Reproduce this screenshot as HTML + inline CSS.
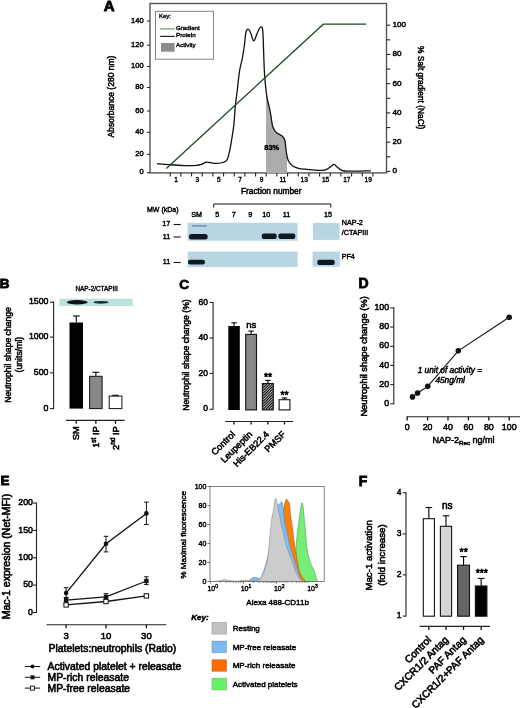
<!DOCTYPE html>
<html><head><meta charset="utf-8"><style>
html,body{margin:0;padding:0;background:#fff;}
body{width:520px;height:708px;overflow:hidden;}
svg{display:block;font-family:"Liberation Sans", sans-serif;will-change:transform;}
text{stroke:#000;stroke-width:0.55px;}
</style></head><body>
<svg width="520" height="708" viewBox="0 0 520 708">
<rect width="520" height="708" fill="#fff"/>
<text x="103.80" y="10.90" font-size="15" text-anchor="start" font-weight="bold" font-style="normal" fill="#000"  style="stroke-width:0.87px">A</text>
<rect x="150.00" y="3.50" width="236.50" height="169.40" fill="none" stroke="#555" stroke-width="1.4" />
<line x1="147.00" y1="172.70" x2="150.00" y2="172.70" stroke="#222" stroke-width="1"/>
<text x="143.60" y="174.40" font-size="7.5" text-anchor="end" font-weight="normal" font-style="normal" fill="#000"  style="stroke-width:0.43px">0</text>
<line x1="147.00" y1="154.30" x2="150.00" y2="154.30" stroke="#222" stroke-width="1"/>
<text x="143.60" y="156.00" font-size="7.5" text-anchor="end" font-weight="normal" font-style="normal" fill="#000"  style="stroke-width:0.43px">20</text>
<line x1="147.00" y1="132.30" x2="150.00" y2="132.30" stroke="#222" stroke-width="1"/>
<text x="143.60" y="134.00" font-size="7.5" text-anchor="end" font-weight="normal" font-style="normal" fill="#000"  style="stroke-width:0.43px">40</text>
<line x1="147.00" y1="111.00" x2="150.00" y2="111.00" stroke="#222" stroke-width="1"/>
<text x="143.60" y="112.70" font-size="7.5" text-anchor="end" font-weight="normal" font-style="normal" fill="#000"  style="stroke-width:0.43px">60</text>
<line x1="147.00" y1="87.50" x2="150.00" y2="87.50" stroke="#222" stroke-width="1"/>
<text x="143.60" y="89.20" font-size="7.5" text-anchor="end" font-weight="normal" font-style="normal" fill="#000"  style="stroke-width:0.43px">80</text>
<line x1="147.00" y1="66.50" x2="150.00" y2="66.50" stroke="#222" stroke-width="1"/>
<text x="143.60" y="68.20" font-size="7.5" text-anchor="end" font-weight="normal" font-style="normal" fill="#000"  style="stroke-width:0.43px">100</text>
<line x1="147.00" y1="45.20" x2="150.00" y2="45.20" stroke="#222" stroke-width="1"/>
<text x="143.60" y="46.90" font-size="7.5" text-anchor="end" font-weight="normal" font-style="normal" fill="#000"  style="stroke-width:0.43px">120</text>
<line x1="147.00" y1="21.00" x2="150.00" y2="21.00" stroke="#222" stroke-width="1"/>
<text x="143.60" y="22.70" font-size="7.5" text-anchor="end" font-weight="normal" font-style="normal" fill="#000"  style="stroke-width:0.43px">140</text>
<line x1="386.50" y1="171.40" x2="390.20" y2="171.40" stroke="#222" stroke-width="1.1"/>
<text x="392.40" y="173.40" font-size="8.1" text-anchor="start" font-weight="normal" font-style="normal" fill="#000"  style="stroke-width:0.47px">0</text>
<line x1="386.50" y1="156.78" x2="390.20" y2="156.78" stroke="#222" stroke-width="1.1"/>
<line x1="386.50" y1="142.16" x2="390.20" y2="142.16" stroke="#222" stroke-width="1.1"/>
<text x="392.40" y="144.16" font-size="8.1" text-anchor="start" font-weight="normal" font-style="normal" fill="#000"  style="stroke-width:0.47px">20</text>
<line x1="386.50" y1="127.54" x2="390.20" y2="127.54" stroke="#222" stroke-width="1.1"/>
<line x1="386.50" y1="112.92" x2="390.20" y2="112.92" stroke="#222" stroke-width="1.1"/>
<text x="392.40" y="114.92" font-size="8.1" text-anchor="start" font-weight="normal" font-style="normal" fill="#000"  style="stroke-width:0.47px">40</text>
<line x1="386.50" y1="98.30" x2="390.20" y2="98.30" stroke="#222" stroke-width="1.1"/>
<line x1="386.50" y1="83.68" x2="390.20" y2="83.68" stroke="#222" stroke-width="1.1"/>
<text x="392.40" y="85.68" font-size="8.1" text-anchor="start" font-weight="normal" font-style="normal" fill="#000"  style="stroke-width:0.47px">60</text>
<line x1="386.50" y1="69.06" x2="390.20" y2="69.06" stroke="#222" stroke-width="1.1"/>
<line x1="386.50" y1="54.44" x2="390.20" y2="54.44" stroke="#222" stroke-width="1.1"/>
<text x="392.40" y="56.44" font-size="8.1" text-anchor="start" font-weight="normal" font-style="normal" fill="#000"  style="stroke-width:0.47px">80</text>
<line x1="386.50" y1="39.82" x2="390.20" y2="39.82" stroke="#222" stroke-width="1.1"/>
<line x1="386.50" y1="25.20" x2="390.20" y2="25.20" stroke="#222" stroke-width="1.1"/>
<text x="392.40" y="27.20" font-size="8.1" text-anchor="start" font-weight="normal" font-style="normal" fill="#000"  style="stroke-width:0.47px">100</text>
<text x="114.30" y="96.50" font-size="8.5" text-anchor="middle" font-weight="normal" font-style="normal" fill="#000" transform="rotate(-90 114.30 96.50)"  style="stroke-width:0.49px">Absorbance (280 nm)</text>
<text x="418.00" y="87.75" font-size="8.4" text-anchor="middle" font-weight="normal" font-style="normal" fill="#000" transform="rotate(90 418.00 87.75)"  style="stroke-width:0.49px">% Salt gradient (NaCl)</text>
<line x1="170.20" y1="172.90" x2="170.20" y2="176.40" stroke="#222" stroke-width="1.1"/>
<line x1="180.87" y1="172.90" x2="180.87" y2="176.40" stroke="#222" stroke-width="1.1"/>
<line x1="191.54" y1="172.90" x2="191.54" y2="176.40" stroke="#222" stroke-width="1.1"/>
<line x1="202.21" y1="172.90" x2="202.21" y2="176.40" stroke="#222" stroke-width="1.1"/>
<line x1="212.88" y1="172.90" x2="212.88" y2="176.40" stroke="#222" stroke-width="1.1"/>
<line x1="223.55" y1="172.90" x2="223.55" y2="176.40" stroke="#222" stroke-width="1.1"/>
<line x1="234.22" y1="172.90" x2="234.22" y2="176.40" stroke="#222" stroke-width="1.1"/>
<line x1="244.89" y1="172.90" x2="244.89" y2="176.40" stroke="#222" stroke-width="1.1"/>
<line x1="255.56" y1="172.90" x2="255.56" y2="176.40" stroke="#222" stroke-width="1.1"/>
<line x1="266.23" y1="172.90" x2="266.23" y2="176.40" stroke="#222" stroke-width="1.1"/>
<line x1="276.90" y1="172.90" x2="276.90" y2="176.40" stroke="#222" stroke-width="1.1"/>
<line x1="287.57" y1="172.90" x2="287.57" y2="176.40" stroke="#222" stroke-width="1.1"/>
<line x1="298.24" y1="172.90" x2="298.24" y2="176.40" stroke="#222" stroke-width="1.1"/>
<line x1="308.91" y1="172.90" x2="308.91" y2="176.40" stroke="#222" stroke-width="1.1"/>
<line x1="319.58" y1="172.90" x2="319.58" y2="176.40" stroke="#222" stroke-width="1.1"/>
<line x1="330.25" y1="172.90" x2="330.25" y2="176.40" stroke="#222" stroke-width="1.1"/>
<line x1="340.92" y1="172.90" x2="340.92" y2="176.40" stroke="#222" stroke-width="1.1"/>
<line x1="351.59" y1="172.90" x2="351.59" y2="176.40" stroke="#222" stroke-width="1.1"/>
<line x1="362.26" y1="172.90" x2="362.26" y2="176.40" stroke="#222" stroke-width="1.1"/>
<line x1="372.93" y1="172.90" x2="372.93" y2="176.40" stroke="#222" stroke-width="1.1"/>
<text x="176.00" y="181.80" font-size="6.5" text-anchor="middle" font-weight="normal" font-style="normal" fill="#000"  style="stroke-width:0.38px">1</text>
<text x="197.36" y="181.80" font-size="6.5" text-anchor="middle" font-weight="normal" font-style="normal" fill="#000"  style="stroke-width:0.38px">3</text>
<text x="218.72" y="181.80" font-size="6.5" text-anchor="middle" font-weight="normal" font-style="normal" fill="#000"  style="stroke-width:0.38px">5</text>
<text x="240.08" y="181.80" font-size="6.5" text-anchor="middle" font-weight="normal" font-style="normal" fill="#000"  style="stroke-width:0.38px">7</text>
<text x="261.44" y="181.80" font-size="6.5" text-anchor="middle" font-weight="normal" font-style="normal" fill="#000"  style="stroke-width:0.38px">9</text>
<text x="282.80" y="181.80" font-size="6.5" text-anchor="middle" font-weight="normal" font-style="normal" fill="#000"  style="stroke-width:0.38px">11</text>
<text x="304.16" y="181.80" font-size="6.5" text-anchor="middle" font-weight="normal" font-style="normal" fill="#000"  style="stroke-width:0.38px">13</text>
<text x="325.52" y="181.80" font-size="6.5" text-anchor="middle" font-weight="normal" font-style="normal" fill="#000"  style="stroke-width:0.38px">15</text>
<text x="346.88" y="181.80" font-size="6.5" text-anchor="middle" font-weight="normal" font-style="normal" fill="#000"  style="stroke-width:0.38px">17</text>
<text x="368.24" y="181.80" font-size="6.5" text-anchor="middle" font-weight="normal" font-style="normal" fill="#000"  style="stroke-width:0.38px">19</text>
<text x="241.00" y="194.00" font-size="8.3" text-anchor="start" font-weight="normal" font-style="normal" fill="#000"  style="stroke-width:0.48px">Fraction number</text>
<defs><clipPath id="actclip"><rect x="266.1" y="0" width="20.8" height="173"/></clipPath></defs>
<path d="M157.00,163.70 C159.00,163.87 164.40,164.38 169.00,164.70 C173.60,165.02 179.98,165.48 184.60,165.60 C189.22,165.72 193.80,165.63 196.70,165.40 C199.60,165.17 200.42,164.73 202.00,164.20 C203.58,163.67 204.92,162.48 206.20,162.20 C207.48,161.92 208.10,162.30 209.70,162.50 C211.30,162.70 213.63,163.40 215.80,163.40 C217.97,163.40 220.83,163.08 222.70,162.50 C224.57,161.92 225.85,161.82 227.00,159.90 C228.15,157.98 228.83,154.32 229.60,151.00 C230.37,147.68 230.90,144.33 231.60,140.00 C232.30,135.67 233.17,130.77 233.80,125.00 C234.43,119.23 234.87,110.82 235.40,105.40 C235.93,99.98 236.32,98.17 237.00,92.50 C237.68,86.83 238.60,77.15 239.50,71.40 C240.40,65.65 241.58,62.40 242.40,58.00 C243.22,53.60 243.83,49.17 244.40,45.00 C244.97,40.83 245.25,35.63 245.80,33.00 C246.35,30.37 246.95,29.37 247.70,29.20 C248.45,29.03 249.28,30.07 250.30,32.00 C251.32,33.93 252.63,40.63 253.80,40.80 C254.97,40.97 256.17,35.30 257.30,33.00 C258.43,30.70 259.70,27.50 260.60,27.00 C261.50,26.50 262.23,27.00 262.70,30.00 C263.17,33.00 263.20,40.00 263.40,45.00 C263.60,50.00 263.67,54.53 263.90,60.00 C264.13,65.47 264.28,71.58 264.80,77.80 C265.32,84.02 266.08,91.60 267.00,97.30 C267.92,103.00 269.35,107.13 270.30,112.00 C271.25,116.87 271.75,123.13 272.70,126.50 C273.65,129.87 274.37,130.57 276.00,132.20 C277.63,133.83 281.00,134.83 282.50,136.30 C284.00,137.77 284.38,138.55 285.00,141.00 C285.62,143.45 285.67,147.73 286.20,151.00 C286.73,154.27 287.07,158.05 288.20,160.60 C289.33,163.15 291.03,164.95 293.00,166.30 C294.97,167.65 297.93,168.22 300.00,168.70 C302.07,169.18 302.27,168.92 305.40,169.20 C308.53,169.48 315.43,170.30 318.80,170.40 C322.17,170.50 323.67,170.38 325.60,169.80 C327.53,169.22 329.03,167.80 330.40,166.90 C331.77,166.00 332.68,164.40 333.80,164.40 C334.92,164.40 335.75,165.90 337.10,166.90 C338.45,167.90 340.13,169.68 341.90,170.40 C343.67,171.12 342.88,171.13 347.70,171.20 C352.52,171.27 366.95,170.87 370.80,170.80 L370.8,173 L157,173 Z" fill="#acacac" clip-path="url(#actclip)"/>
<path d="M157.00,163.70 C159.00,163.87 164.40,164.38 169.00,164.70 C173.60,165.02 179.98,165.48 184.60,165.60 C189.22,165.72 193.80,165.63 196.70,165.40 C199.60,165.17 200.42,164.73 202.00,164.20 C203.58,163.67 204.92,162.48 206.20,162.20 C207.48,161.92 208.10,162.30 209.70,162.50 C211.30,162.70 213.63,163.40 215.80,163.40 C217.97,163.40 220.83,163.08 222.70,162.50 C224.57,161.92 225.85,161.82 227.00,159.90 C228.15,157.98 228.83,154.32 229.60,151.00 C230.37,147.68 230.90,144.33 231.60,140.00 C232.30,135.67 233.17,130.77 233.80,125.00 C234.43,119.23 234.87,110.82 235.40,105.40 C235.93,99.98 236.32,98.17 237.00,92.50 C237.68,86.83 238.60,77.15 239.50,71.40 C240.40,65.65 241.58,62.40 242.40,58.00 C243.22,53.60 243.83,49.17 244.40,45.00 C244.97,40.83 245.25,35.63 245.80,33.00 C246.35,30.37 246.95,29.37 247.70,29.20 C248.45,29.03 249.28,30.07 250.30,32.00 C251.32,33.93 252.63,40.63 253.80,40.80 C254.97,40.97 256.17,35.30 257.30,33.00 C258.43,30.70 259.70,27.50 260.60,27.00 C261.50,26.50 262.23,27.00 262.70,30.00 C263.17,33.00 263.20,40.00 263.40,45.00 C263.60,50.00 263.67,54.53 263.90,60.00 C264.13,65.47 264.28,71.58 264.80,77.80 C265.32,84.02 266.08,91.60 267.00,97.30 C267.92,103.00 269.35,107.13 270.30,112.00 C271.25,116.87 271.75,123.13 272.70,126.50 C273.65,129.87 274.37,130.57 276.00,132.20 C277.63,133.83 281.00,134.83 282.50,136.30 C284.00,137.77 284.38,138.55 285.00,141.00 C285.62,143.45 285.67,147.73 286.20,151.00 C286.73,154.27 287.07,158.05 288.20,160.60 C289.33,163.15 291.03,164.95 293.00,166.30 C294.97,167.65 297.93,168.22 300.00,168.70 C302.07,169.18 302.27,168.92 305.40,169.20 C308.53,169.48 315.43,170.30 318.80,170.40 C322.17,170.50 323.67,170.38 325.60,169.80 C327.53,169.22 329.03,167.80 330.40,166.90 C331.77,166.00 332.68,164.40 333.80,164.40 C334.92,164.40 335.75,165.90 337.10,166.90 C338.45,167.90 340.13,169.68 341.90,170.40 C343.67,171.12 342.88,171.13 347.70,171.20 C352.52,171.27 366.95,170.87 370.80,170.80" fill="none" stroke="#111" stroke-width="1.3" />
<path d="M166.3,168.5 L323.3,24.2 L366,24.2" fill="none" stroke="#1f4a24" stroke-width="1.3" />
<text x="271.80" y="149.80" font-size="7.5" text-anchor="middle" font-weight="bold" font-style="normal" fill="#000"  style="stroke-width:0.43px">83%</text>
<rect x="155.50" y="11.30" width="57.90" height="47.90" fill="#fff" stroke="#777" stroke-width="0.9" />
<text x="159.00" y="18.40" font-size="6" text-anchor="start" font-weight="normal" font-style="normal" fill="#000"  style="stroke-width:0.35px">Key:</text>
<line x1="160.20" y1="28.90" x2="174.80" y2="28.90" stroke="#6a9a70" stroke-width="1.2"/>
<text x="176.00" y="29.60" font-size="6.2" text-anchor="start" font-weight="normal" font-style="normal" fill="#000"  style="stroke-width:0.36px">Gradient</text>
<line x1="160.20" y1="36.40" x2="174.80" y2="36.40" stroke="#222" stroke-width="1.2"/>
<text x="176.00" y="37.40" font-size="6.2" text-anchor="start" font-weight="normal" font-style="normal" fill="#000"  style="stroke-width:0.36px">Protein</text>
<rect x="161.00" y="43.00" width="13.60" height="8.70" fill="#8c8c8c" stroke="none" stroke-width="1" />
<text x="176.00" y="46.90" font-size="6.2" text-anchor="start" font-weight="normal" font-style="normal" fill="#000"  style="stroke-width:0.36px">Activity</text>
<text x="147.00" y="211.50" font-size="7" text-anchor="start" font-weight="normal" font-style="normal" fill="#000"  style="stroke-width:0.41px">MW (kDa)</text>
<text x="191.30" y="216.50" font-size="7.2" text-anchor="start" font-weight="normal" font-style="normal" fill="#000"  style="stroke-width:0.42px">SM</text>
<text x="217.20" y="216.50" font-size="7.2" text-anchor="middle" font-weight="normal" font-style="normal" fill="#000"  style="stroke-width:0.42px">5</text>
<text x="233.80" y="216.50" font-size="7.2" text-anchor="middle" font-weight="normal" font-style="normal" fill="#000"  style="stroke-width:0.42px">7</text>
<text x="250.20" y="216.50" font-size="7.2" text-anchor="middle" font-weight="normal" font-style="normal" fill="#000"  style="stroke-width:0.42px">9</text>
<text x="266.30" y="216.50" font-size="7.2" text-anchor="middle" font-weight="normal" font-style="normal" fill="#000"  style="stroke-width:0.42px">10</text>
<text x="286.60" y="216.50" font-size="7.2" text-anchor="middle" font-weight="normal" font-style="normal" fill="#000"  style="stroke-width:0.42px">11</text>
<text x="327.90" y="216.50" font-size="7.2" text-anchor="middle" font-weight="normal" font-style="normal" fill="#000"  style="stroke-width:0.42px">15</text>
<path d="M213.75,207.5 L213.75,204 L330.8,204 L330.8,207.5" fill="none" stroke="#111" stroke-width="1" />
<rect x="187.60" y="222.80" width="110.00" height="17.90" fill="#b9d5e3" stroke="none" stroke-width="1" />
<rect x="312.90" y="223.00" width="26.60" height="16.90" fill="#b9d5e3" stroke="none" stroke-width="1" />
<rect x="187.60" y="251.50" width="110.00" height="15.60" fill="#b9d5e3" stroke="none" stroke-width="1" />
<rect x="312.50" y="251.50" width="27.20" height="15.20" fill="#b9d5e3" stroke="none" stroke-width="1" />
<text x="170.30" y="226.10" font-size="7.2" text-anchor="end" font-weight="normal" font-style="normal" fill="#000"  style="stroke-width:0.42px">17</text>
<line x1="173.70" y1="224.50" x2="180.70" y2="224.50" stroke="#111" stroke-width="1.1"/>
<text x="170.30" y="238.60" font-size="7.2" text-anchor="end" font-weight="normal" font-style="normal" fill="#000"  style="stroke-width:0.42px">11</text>
<line x1="173.70" y1="237.00" x2="180.70" y2="237.00" stroke="#111" stroke-width="1.1"/>
<text x="170.30" y="264.10" font-size="7.2" text-anchor="end" font-weight="normal" font-style="normal" fill="#000"  style="stroke-width:0.42px">11</text>
<line x1="173.70" y1="262.50" x2="180.70" y2="262.50" stroke="#111" stroke-width="1.1"/>
<rect x="188.90" y="234.00" width="18.80" height="5.40" fill="#0e1822" stroke="none" stroke-width="1" rx="2.5"/>
<rect x="192.00" y="225.00" width="15.00" height="1.80" fill="#8197ad" stroke="none" stroke-width="1" rx="0.9"/>
<rect x="261.80" y="233.40" width="14.90" height="5.60" fill="#0e1822" stroke="none" stroke-width="1" rx="2"/>
<rect x="278.40" y="233.40" width="16.90" height="5.60" fill="#0e1822" stroke="none" stroke-width="1" rx="2"/>
<rect x="188.00" y="259.80" width="17.00" height="4.60" fill="#0e1822" stroke="none" stroke-width="1" rx="2.2"/>
<rect x="317.30" y="259.70" width="17.40" height="5.30" fill="#0e1822" stroke="none" stroke-width="1" rx="2"/>
<text x="341.70" y="225.20" font-size="7.2" text-anchor="start" font-weight="normal" font-style="normal" fill="#000"  style="stroke-width:0.42px">NAP-2</text>
<text x="341.70" y="235.20" font-size="7.2" text-anchor="start" font-weight="normal" font-style="normal" fill="#000"  style="stroke-width:0.42px">/CTAPIII</text>
<text x="341.70" y="259.20" font-size="7.2" text-anchor="start" font-weight="normal" font-style="normal" fill="#000"  style="stroke-width:0.42px">PF4</text>
<text x="-0.30" y="287.60" font-size="13.5" text-anchor="start" font-weight="bold" font-style="normal" fill="#000"  style="stroke-width:0.78px">B</text>
<line x1="53.60" y1="301.60" x2="53.60" y2="408.90" stroke="#222" stroke-width="1.1"/>
<line x1="50.00" y1="302.20" x2="53.60" y2="302.20" stroke="#222" stroke-width="1.1"/>
<text x="48.50" y="304.40" font-size="8.8" text-anchor="end" font-weight="normal" font-style="normal" fill="#000"  style="stroke-width:0.51px">1500</text>
<line x1="50.00" y1="337.10" x2="53.60" y2="337.10" stroke="#222" stroke-width="1.1"/>
<text x="48.50" y="339.30" font-size="8.8" text-anchor="end" font-weight="normal" font-style="normal" fill="#000"  style="stroke-width:0.51px">1000</text>
<line x1="50.00" y1="372.90" x2="53.60" y2="372.90" stroke="#222" stroke-width="1.1"/>
<text x="48.50" y="375.10" font-size="8.8" text-anchor="end" font-weight="normal" font-style="normal" fill="#000"  style="stroke-width:0.51px">500</text>
<line x1="50.00" y1="408.60" x2="53.60" y2="408.60" stroke="#222" stroke-width="1.1"/>
<text x="48.50" y="410.80" font-size="8.8" text-anchor="end" font-weight="normal" font-style="normal" fill="#000"  style="stroke-width:0.51px">0</text>
<rect x="59.30" y="298.70" width="73.40" height="7.30" fill="#bce2de" stroke="none" stroke-width="1" />
<ellipse cx="77.2" cy="302.2" rx="10.6" ry="2.2" fill="#0b1414"/>
<ellipse cx="101" cy="302.3" rx="7.6" ry="1.4" fill="#173030"/>
<text x="75.40" y="291.20" font-size="6.4" text-anchor="start" font-weight="normal" font-style="normal" fill="#000"  style="stroke-width:0.37px">NAP-2/CTAPIII</text>
<rect x="69.50" y="322.50" width="13.50" height="86.10" fill="#000" stroke="none" stroke-width="1" />
<line x1="76.25" y1="322.50" x2="76.25" y2="316.00" stroke="#000" stroke-width="1.1"/>
<line x1="73.00" y1="316.00" x2="79.80" y2="316.00" stroke="#000" stroke-width="1.1"/>
<line x1="95.85" y1="376.30" x2="95.85" y2="372.30" stroke="#000" stroke-width="1.1"/>
<line x1="92.50" y1="372.30" x2="99.20" y2="372.30" stroke="#000" stroke-width="1.1"/>
<rect x="89.60" y="376.30" width="12.50" height="32.30" fill="#888" stroke="#111" stroke-width="1" />
<line x1="115.50" y1="396.10" x2="115.50" y2="395.30" stroke="#000" stroke-width="1.1"/>
<line x1="112.30" y1="395.30" x2="118.70" y2="395.30" stroke="#000" stroke-width="1.1"/>
<rect x="109.20" y="396.10" width="12.70" height="12.50" fill="#fff" stroke="#111" stroke-width="1" />
<line x1="66.00" y1="420.40" x2="124.60" y2="420.40" stroke="#222" stroke-width="1.2"/>
<line x1="76.25" y1="420.40" x2="76.25" y2="423.80" stroke="#111" stroke-width="1.3"/>
<line x1="95.85" y1="420.40" x2="95.85" y2="423.80" stroke="#111" stroke-width="1.3"/>
<line x1="115.50" y1="420.40" x2="115.50" y2="423.80" stroke="#111" stroke-width="1.3"/>
<text x="79.00" y="426.20" font-size="9.4" text-anchor="end" font-weight="normal" font-style="normal" fill="#000" transform="rotate(-90 79.00 426.20)"  style="stroke-width:0.55px">SM</text>
<text x="99.50" y="426.20" font-size="9.4" text-anchor="end" font-weight="normal" font-style="normal" fill="#000" transform="rotate(-90 99.50 426.20)"  style="stroke-width:0.55px">1<tspan font-size="6.4" dy="-3.6">st</tspan><tspan dy="3.6"> IP</tspan></text>
<text x="118.60" y="426.20" font-size="9.4" text-anchor="end" font-weight="normal" font-style="normal" fill="#000" transform="rotate(-90 118.60 426.20)"  style="stroke-width:0.55px">2<tspan font-size="6.4" dy="-3.6">nd</tspan><tspan dy="3.6"> IP</tspan></text>
<text x="10.60" y="355.00" font-size="8.6" text-anchor="middle" font-weight="normal" font-style="normal" fill="#000" transform="rotate(-90 10.60 355.00)"  style="stroke-width:0.50px">Neutrophil shape change</text>
<text x="21.60" y="354.60" font-size="8.7" text-anchor="middle" font-weight="normal" font-style="normal" fill="#000" transform="rotate(-90 21.60 354.60)"  style="stroke-width:0.50px">(units/ml)</text>
<text x="179.30" y="289.20" font-size="13.5" text-anchor="start" font-weight="bold" font-style="normal" fill="#000"  style="stroke-width:0.78px">C</text>
<line x1="213.10" y1="302.00" x2="213.10" y2="409.60" stroke="#222" stroke-width="1.1"/>
<line x1="209.60" y1="302.50" x2="213.10" y2="302.50" stroke="#222" stroke-width="1.1"/>
<text x="208.00" y="304.60" font-size="8.5" text-anchor="end" font-weight="normal" font-style="normal" fill="#000"  style="stroke-width:0.49px">60</text>
<line x1="209.60" y1="338.00" x2="213.10" y2="338.00" stroke="#222" stroke-width="1.1"/>
<text x="208.00" y="340.10" font-size="8.5" text-anchor="end" font-weight="normal" font-style="normal" fill="#000"  style="stroke-width:0.49px">40</text>
<line x1="209.60" y1="373.40" x2="213.10" y2="373.40" stroke="#222" stroke-width="1.1"/>
<text x="208.00" y="375.50" font-size="8.5" text-anchor="end" font-weight="normal" font-style="normal" fill="#000"  style="stroke-width:0.49px">20</text>
<line x1="209.60" y1="409.30" x2="213.10" y2="409.30" stroke="#222" stroke-width="1.1"/>
<text x="208.00" y="411.40" font-size="8.5" text-anchor="end" font-weight="normal" font-style="normal" fill="#000"  style="stroke-width:0.49px">0</text>
<defs><pattern id="hatch" patternUnits="userSpaceOnUse" width="1.9" height="1.9" patternTransform="rotate(45)"><rect width="1.9" height="1.9" fill="#c8c8c8"/><rect x="0" y="0" width="1.15" height="1.9" fill="#1a1a1a"/></pattern></defs>
<line x1="234.05" y1="326.00" x2="234.05" y2="322.80" stroke="#000" stroke-width="1.1"/>
<line x1="231.35" y1="322.80" x2="236.75" y2="322.80" stroke="#000" stroke-width="1.1"/>
<rect x="228.30" y="326.00" width="11.50" height="84.00" fill="#000" stroke="none" stroke-width="1" />
<line x1="251.10" y1="334.40" x2="251.10" y2="331.10" stroke="#000" stroke-width="1.1"/>
<line x1="248.40" y1="331.10" x2="253.80" y2="331.10" stroke="#000" stroke-width="1.1"/>
<rect x="245.70" y="334.40" width="10.80" height="75.50" fill="#888" stroke="#111" stroke-width="1.1" />
<text x="251.20" y="327.50" font-size="9.5" text-anchor="middle" font-weight="normal" font-style="normal" fill="#000"  style="stroke-width:0.55px">ns</text>
<line x1="267.85" y1="383.50" x2="267.85" y2="380.40" stroke="#000" stroke-width="1.1"/>
<line x1="265.15" y1="380.40" x2="270.55" y2="380.40" stroke="#000" stroke-width="1.1"/>
<rect x="262.40" y="383.50" width="10.90" height="26.40" fill="url(#hatch)" stroke="#111" stroke-width="1.1" />
<text x="268.00" y="381.40" font-size="10.5" text-anchor="middle" font-weight="normal" font-style="normal" fill="#000"  style="stroke-width:0.61px">**</text>
<line x1="284.50" y1="399.70" x2="284.50" y2="398.00" stroke="#000" stroke-width="1.1"/>
<line x1="281.80" y1="398.00" x2="287.20" y2="398.00" stroke="#000" stroke-width="1.1"/>
<rect x="279.10" y="399.70" width="10.80" height="10.20" fill="#fff" stroke="#111" stroke-width="1.1" />
<text x="284.60" y="398.80" font-size="10.5" text-anchor="middle" font-weight="normal" font-style="normal" fill="#000"  style="stroke-width:0.61px">**</text>
<line x1="225.20" y1="421.50" x2="293.20" y2="421.50" stroke="#222" stroke-width="1.1"/>
<line x1="234.05" y1="421.50" x2="234.05" y2="424.40" stroke="#111" stroke-width="1.3"/>
<line x1="251.10" y1="421.50" x2="251.10" y2="424.40" stroke="#111" stroke-width="1.3"/>
<line x1="267.85" y1="421.50" x2="267.85" y2="424.40" stroke="#111" stroke-width="1.3"/>
<line x1="284.50" y1="421.50" x2="284.50" y2="424.40" stroke="#111" stroke-width="1.3"/>
<text x="235.75" y="434.90" font-size="9.15" text-anchor="end" font-weight="normal" font-style="normal" fill="#000" transform="rotate(-45 235.75 434.90)"  style="stroke-width:0.53px">Control</text>
<text x="252.80" y="434.90" font-size="9.15" text-anchor="end" font-weight="normal" font-style="normal" fill="#000" transform="rotate(-45 252.80 434.90)"  style="stroke-width:0.53px">Leupeptin</text>
<text x="269.55" y="434.90" font-size="9.15" text-anchor="end" font-weight="normal" font-style="normal" fill="#000" transform="rotate(-45 269.55 434.90)"  style="stroke-width:0.53px">His-EB22.4</text>
<text x="286.20" y="434.90" font-size="9.15" text-anchor="end" font-weight="normal" font-style="normal" fill="#000" transform="rotate(-45 286.20 434.90)"  style="stroke-width:0.53px">PMSF</text>
<text x="189.20" y="355.00" font-size="8.6" text-anchor="middle" font-weight="normal" font-style="normal" fill="#000" transform="rotate(-90 189.20 355.00)"  style="stroke-width:0.50px">Neutrophil shape change (%)</text>
<text x="358.60" y="287.60" font-size="14" text-anchor="start" font-weight="bold" font-style="normal" fill="#000"  style="stroke-width:0.81px">D</text>
<line x1="393.80" y1="307.40" x2="393.80" y2="404.20" stroke="#222" stroke-width="1.1"/>
<line x1="390.20" y1="403.80" x2="393.80" y2="403.80" stroke="#222" stroke-width="1.1"/>
<text x="389.10" y="406.00" font-size="8.8" text-anchor="end" font-weight="normal" font-style="normal" fill="#000"  style="stroke-width:0.51px">0</text>
<line x1="390.20" y1="384.62" x2="393.80" y2="384.62" stroke="#222" stroke-width="1.1"/>
<text x="389.10" y="386.82" font-size="8.8" text-anchor="end" font-weight="normal" font-style="normal" fill="#000"  style="stroke-width:0.51px">20</text>
<line x1="390.20" y1="365.44" x2="393.80" y2="365.44" stroke="#222" stroke-width="1.1"/>
<text x="389.10" y="367.64" font-size="8.8" text-anchor="end" font-weight="normal" font-style="normal" fill="#000"  style="stroke-width:0.51px">40</text>
<line x1="390.20" y1="346.26" x2="393.80" y2="346.26" stroke="#222" stroke-width="1.1"/>
<text x="389.10" y="348.46" font-size="8.8" text-anchor="end" font-weight="normal" font-style="normal" fill="#000"  style="stroke-width:0.51px">60</text>
<line x1="390.20" y1="327.08" x2="393.80" y2="327.08" stroke="#222" stroke-width="1.1"/>
<text x="389.10" y="329.28" font-size="8.8" text-anchor="end" font-weight="normal" font-style="normal" fill="#000"  style="stroke-width:0.51px">80</text>
<line x1="390.20" y1="307.90" x2="393.80" y2="307.90" stroke="#222" stroke-width="1.1"/>
<text x="389.10" y="310.10" font-size="8.8" text-anchor="end" font-weight="normal" font-style="normal" fill="#000"  style="stroke-width:0.51px">100</text>
<line x1="406.60" y1="416.80" x2="520.00" y2="416.80" stroke="#222" stroke-width="1.1"/>
<line x1="407.20" y1="416.80" x2="407.20" y2="420.40" stroke="#111" stroke-width="1.3"/>
<text x="407.20" y="430.20" font-size="8.8" text-anchor="middle" font-weight="normal" font-style="normal" fill="#000"  style="stroke-width:0.51px">0</text>
<line x1="427.60" y1="416.80" x2="427.60" y2="420.40" stroke="#111" stroke-width="1.3"/>
<text x="427.60" y="430.20" font-size="8.8" text-anchor="middle" font-weight="normal" font-style="normal" fill="#000"  style="stroke-width:0.51px">20</text>
<line x1="448.00" y1="416.80" x2="448.00" y2="420.40" stroke="#111" stroke-width="1.3"/>
<text x="448.00" y="430.20" font-size="8.8" text-anchor="middle" font-weight="normal" font-style="normal" fill="#000"  style="stroke-width:0.51px">40</text>
<line x1="468.40" y1="416.80" x2="468.40" y2="420.40" stroke="#111" stroke-width="1.3"/>
<text x="468.40" y="430.20" font-size="8.8" text-anchor="middle" font-weight="normal" font-style="normal" fill="#000"  style="stroke-width:0.51px">60</text>
<line x1="488.80" y1="416.80" x2="488.80" y2="420.40" stroke="#111" stroke-width="1.3"/>
<text x="488.80" y="430.20" font-size="8.8" text-anchor="middle" font-weight="normal" font-style="normal" fill="#000"  style="stroke-width:0.51px">80</text>
<line x1="509.20" y1="416.80" x2="509.20" y2="420.40" stroke="#111" stroke-width="1.3"/>
<text x="509.20" y="430.20" font-size="8.8" text-anchor="middle" font-weight="normal" font-style="normal" fill="#000"  style="stroke-width:0.51px">100</text>
<polyline points="412.49,396.89 417.58,393.05 427.76,386.34 458.30,350.86 509.20,317.29" fill="none" stroke="#111" stroke-width="1.1"/>
<circle cx="412.49" cy="396.89" r="2.8" fill="#111"/>
<circle cx="417.58" cy="393.05" r="2.8" fill="#111"/>
<circle cx="427.76" cy="386.34" r="2.8" fill="#111"/>
<circle cx="458.30" cy="350.86" r="2.8" fill="#111"/>
<circle cx="509.20" cy="317.29" r="2.8" fill="#111"/>
<text x="417.70" y="373.30" font-size="8.3" text-anchor="start" font-weight="normal" font-style="italic" fill="#000"  style="stroke-width:0.48px">1 unit of activity =</text>
<text x="435.40" y="383.40" font-size="8.3" text-anchor="start" font-weight="normal" font-style="italic" fill="#000"  style="stroke-width:0.48px">45ng/ml</text>
<text x="432.50" y="442.70" font-size="9" text-anchor="start" font-weight="normal" font-style="normal" fill="#000"  style="stroke-width:0.52px">NAP-2<tspan font-size="6.2" dy="2.2">Rec</tspan><tspan dy="-2.2"> ng/ml</tspan></text>
<text x="367.40" y="356.40" font-size="9.3" text-anchor="middle" font-weight="normal" font-style="normal" fill="#000" transform="rotate(-90 367.40 356.40)"  style="stroke-width:0.54px">Neutrophil shape change (%)</text>
<text x="0.60" y="484.60" font-size="13.5" text-anchor="start" font-weight="bold" font-style="normal" fill="#000"  style="stroke-width:0.78px">E</text>
<line x1="36.50" y1="502.60" x2="36.50" y2="612.90" stroke="#222" stroke-width="1.1"/>
<line x1="33.00" y1="612.50" x2="36.50" y2="612.50" stroke="#222" stroke-width="1.1"/>
<text x="33.00" y="614.70" font-size="8.8" text-anchor="end" font-weight="normal" font-style="normal" fill="#000"  style="stroke-width:0.51px">0</text>
<line x1="33.00" y1="585.12" x2="36.50" y2="585.12" stroke="#222" stroke-width="1.1"/>
<text x="33.00" y="587.33" font-size="8.8" text-anchor="end" font-weight="normal" font-style="normal" fill="#000"  style="stroke-width:0.51px">50</text>
<line x1="33.00" y1="557.75" x2="36.50" y2="557.75" stroke="#222" stroke-width="1.1"/>
<text x="33.00" y="559.95" font-size="8.8" text-anchor="end" font-weight="normal" font-style="normal" fill="#000"  style="stroke-width:0.51px">100</text>
<line x1="33.00" y1="530.38" x2="36.50" y2="530.38" stroke="#222" stroke-width="1.1"/>
<text x="33.00" y="532.58" font-size="8.8" text-anchor="end" font-weight="normal" font-style="normal" fill="#000"  style="stroke-width:0.51px">150</text>
<line x1="33.00" y1="503.00" x2="36.50" y2="503.00" stroke="#222" stroke-width="1.1"/>
<text x="33.00" y="505.20" font-size="8.8" text-anchor="end" font-weight="normal" font-style="normal" fill="#000"  style="stroke-width:0.51px">200</text>
<line x1="46.50" y1="624.70" x2="166.30" y2="624.70" stroke="#222" stroke-width="1.1"/>
<line x1="66.10" y1="624.70" x2="66.10" y2="628.20" stroke="#111" stroke-width="1.3"/>
<text x="66.10" y="639.00" font-size="9.5" text-anchor="middle" font-weight="normal" font-style="normal" fill="#000"  style="stroke-width:0.55px">3</text>
<line x1="106.00" y1="624.70" x2="106.00" y2="628.20" stroke="#111" stroke-width="1.3"/>
<text x="106.00" y="639.00" font-size="9.5" text-anchor="middle" font-weight="normal" font-style="normal" fill="#000"  style="stroke-width:0.55px">10</text>
<line x1="146.40" y1="624.70" x2="146.40" y2="628.20" stroke="#111" stroke-width="1.3"/>
<text x="146.40" y="639.00" font-size="9.5" text-anchor="middle" font-weight="normal" font-style="normal" fill="#000"  style="stroke-width:0.55px">30</text>
<text x="48.60" y="652.00" font-size="10.4" text-anchor="start" font-weight="normal" font-style="normal" fill="#000"  style="stroke-width:0.60px">Platelets:neutrophils (Ratio)</text>
<line x1="66.10" y1="587.70" x2="66.10" y2="597.70" stroke="#111" stroke-width="1"/>
<line x1="63.80" y1="587.70" x2="68.40" y2="587.70" stroke="#111" stroke-width="1"/>
<line x1="63.80" y1="597.70" x2="68.40" y2="597.70" stroke="#111" stroke-width="1"/>
<line x1="106.00" y1="536.30" x2="106.00" y2="551.90" stroke="#111" stroke-width="1"/>
<line x1="103.70" y1="536.30" x2="108.30" y2="536.30" stroke="#111" stroke-width="1"/>
<line x1="103.70" y1="551.90" x2="108.30" y2="551.90" stroke="#111" stroke-width="1"/>
<line x1="146.40" y1="502.10" x2="146.40" y2="524.50" stroke="#111" stroke-width="1"/>
<line x1="144.10" y1="502.10" x2="148.70" y2="502.10" stroke="#111" stroke-width="1"/>
<line x1="144.10" y1="524.50" x2="148.70" y2="524.50" stroke="#111" stroke-width="1"/>
<line x1="66.10" y1="597.40" x2="66.10" y2="602.80" stroke="#111" stroke-width="1"/>
<line x1="63.80" y1="597.40" x2="68.40" y2="597.40" stroke="#111" stroke-width="1"/>
<line x1="63.80" y1="602.80" x2="68.40" y2="602.80" stroke="#111" stroke-width="1"/>
<line x1="106.00" y1="593.60" x2="106.00" y2="599.60" stroke="#111" stroke-width="1"/>
<line x1="103.70" y1="593.60" x2="108.30" y2="593.60" stroke="#111" stroke-width="1"/>
<line x1="103.70" y1="599.60" x2="108.30" y2="599.60" stroke="#111" stroke-width="1"/>
<line x1="146.40" y1="576.80" x2="146.40" y2="584.60" stroke="#111" stroke-width="1"/>
<line x1="144.10" y1="576.80" x2="148.70" y2="576.80" stroke="#111" stroke-width="1"/>
<line x1="144.10" y1="584.60" x2="148.70" y2="584.60" stroke="#111" stroke-width="1"/>
<polyline points="66.10,593.10 106.00,543.80 146.40,513.40" fill="none" stroke="#111" stroke-width="1.3"/>
<polyline points="66.10,600.20 106.00,596.90 146.40,581.00" fill="none" stroke="#111" stroke-width="1.3"/>
<polyline points="66.10,604.90 106.00,601.50 146.40,595.90" fill="none" stroke="#111" stroke-width="1.3"/>
<circle cx="66.1" cy="593.1" r="2.3" fill="#111"/>
<circle cx="106" cy="543.8" r="2.3" fill="#111"/>
<circle cx="146.4" cy="513.4" r="2.3" fill="#111"/>
<rect x="63.90" y="598.00" width="4.40" height="4.40" fill="#111" stroke="none" stroke-width="1" />
<rect x="103.80" y="594.70" width="4.40" height="4.40" fill="#111" stroke="none" stroke-width="1" />
<rect x="144.20" y="578.80" width="4.40" height="4.40" fill="#111" stroke="none" stroke-width="1" />
<rect x="63.90" y="602.70" width="4.40" height="4.40" fill="#fff" stroke="#111" stroke-width="1" />
<rect x="103.80" y="599.30" width="4.40" height="4.40" fill="#fff" stroke="#111" stroke-width="1" />
<rect x="144.20" y="593.70" width="4.40" height="4.40" fill="#fff" stroke="#111" stroke-width="1" />
<line x1="24.80" y1="666.50" x2="40.20" y2="666.50" stroke="#111" stroke-width="1"/>
<circle cx="32.5" cy="666.5" r="2" fill="#111"/>
<text x="47.50" y="670.40" font-size="10.4" text-anchor="start" font-weight="normal" font-style="normal" fill="#000"  style="stroke-width:0.60px">Activated platelet + releasate</text>
<line x1="24.80" y1="677.30" x2="40.20" y2="677.30" stroke="#111" stroke-width="1"/>
<rect x="30.50" y="675.30" width="4.00" height="4.00" fill="#111" stroke="none" stroke-width="1" />
<text x="47.50" y="681.20" font-size="10.4" text-anchor="start" font-weight="normal" font-style="normal" fill="#000"  style="stroke-width:0.60px">MP-rich releasate</text>
<line x1="24.80" y1="688.10" x2="40.20" y2="688.10" stroke="#111" stroke-width="1"/>
<rect x="30.50" y="686.10" width="4.00" height="4.00" fill="#fff" stroke="#111" stroke-width="0.9" />
<text x="47.50" y="692.00" font-size="10.4" text-anchor="start" font-weight="normal" font-style="normal" fill="#000"  style="stroke-width:0.60px">MP-free releasate</text>
<text x="10.00" y="556.50" font-size="10.5" text-anchor="middle" font-weight="normal" font-style="normal" fill="#000" transform="rotate(-90 10.00 556.50)"  style="stroke-width:0.61px">Mac-1 expresion (Net-MFI)</text>
<path d="M238.00,581.50 C238.67,581.35 240.67,580.62 242.00,580.60 C243.33,580.58 238.00,581.25 246.00,581.40 C254.00,581.55 282.00,582.57 290.00,581.50 C298.00,580.43 293.08,578.58 294.00,575.00 C294.92,571.42 295.13,565.00 295.50,560.00 C295.87,555.00 295.90,549.42 296.20,545.00 C296.50,540.58 296.87,537.35 297.30,533.50 C297.73,529.65 298.28,525.75 298.80,521.90 C299.32,518.05 299.88,513.55 300.40,510.40 C300.92,507.25 301.45,503.65 301.90,503.00 C302.35,502.35 302.72,504.00 303.10,506.50 C303.48,509.00 303.82,514.15 304.20,518.00 C304.58,521.85 305.02,525.10 305.40,529.60 C305.78,534.10 305.98,540.60 306.50,545.00 C307.02,549.40 307.67,552.60 308.50,556.00 C309.33,559.40 310.55,562.93 311.50,565.40 C312.45,567.87 313.42,568.78 314.20,570.80 C314.98,572.82 315.63,575.82 316.20,577.50 C316.77,579.18 317.23,580.23 317.60,580.90 C317.97,581.57 318.27,581.40 318.40,581.50 Z" fill="#76ee76" stroke="#4aa04a" stroke-width="0.6"/>
<path d="M270.00,581.50 C271.00,577.92 274.33,568.58 276.00,560.00 C277.67,551.42 278.83,538.00 280.00,530.00 C281.17,522.00 282.23,516.30 283.00,512.00 C283.77,507.70 284.07,506.33 284.60,504.20 C285.13,502.07 285.75,499.90 286.20,499.20 C286.65,498.50 286.98,499.67 287.30,500.00 C287.62,500.33 287.72,500.50 288.10,501.20 C288.48,501.90 289.22,502.03 289.60,504.20 C289.98,506.37 290.08,511.25 290.40,514.20 C290.72,517.15 291.12,519.33 291.50,521.90 C291.88,524.47 292.37,527.03 292.70,529.60 C293.03,532.17 293.18,534.73 293.50,537.30 C293.82,539.87 294.17,542.33 294.60,545.00 C295.03,547.67 295.52,549.90 296.10,553.30 C296.68,556.70 297.32,561.82 298.10,565.40 C298.88,568.98 299.68,572.33 300.80,574.80 C301.92,577.27 303.93,579.08 304.80,580.20 C305.67,581.32 305.80,581.28 306.00,581.50 Z" fill="#f88008" stroke="#b05a10" stroke-width="0.6"/>
<path d="M248.00,581.50 C248.67,580.92 250.67,578.67 252.00,578.00 C253.33,577.33 254.67,577.42 256.00,577.50 C257.33,577.58 259.00,578.92 260.00,578.50 C261.00,578.08 261.17,576.92 262.00,575.00 C262.83,573.08 263.92,570.67 265.00,567.00 C266.08,563.33 267.50,558.33 268.50,553.00 C269.50,547.67 270.25,540.83 271.00,535.00 C271.75,529.17 272.25,522.67 273.00,518.00 C273.75,513.33 274.62,509.17 275.50,507.00 C276.38,504.83 277.30,505.87 278.30,505.00 C279.30,504.13 280.83,502.18 281.50,501.80 C282.17,501.42 281.97,501.27 282.30,502.70 C282.63,504.13 283.18,507.85 283.50,510.40 C283.82,512.95 283.88,515.43 284.20,518.00 C284.52,520.57 284.88,523.22 285.40,525.80 C285.92,528.38 286.73,530.93 287.30,533.50 C287.87,536.07 288.27,538.78 288.80,541.20 C289.33,543.62 289.72,545.20 290.50,548.00 C291.28,550.80 292.50,554.83 293.50,558.00 C294.50,561.17 295.52,563.98 296.50,567.00 C297.48,570.02 298.48,573.68 299.40,576.10 C300.32,578.52 301.57,580.60 302.00,581.50 Z" fill="#82bbef" stroke="#5a8cc0" stroke-width="0.6"/>
<path d="M214.00,581.50 C214.83,581.38 217.33,581.12 219.00,580.80 C220.67,580.48 222.33,579.63 224.00,579.60 C225.67,579.57 227.00,580.33 229.00,580.60 C231.00,580.87 234.00,581.08 236.00,581.20 C238.00,581.32 239.67,581.47 241.00,581.30 C242.33,581.13 242.50,580.28 244.00,580.20 C245.50,580.12 247.67,580.80 250.00,580.80 C252.33,580.80 256.27,580.53 258.00,580.20 C259.73,579.87 259.33,580.37 260.40,578.80 C261.47,577.23 263.17,574.38 264.40,570.80 C265.63,567.22 266.93,562.43 267.80,557.30 C268.67,552.17 269.10,545.00 269.60,540.00 C270.10,535.00 270.42,530.97 270.80,527.30 C271.18,523.63 271.45,520.82 271.90,518.00 C272.35,515.18 273.05,513.20 273.50,510.40 C273.95,507.60 274.20,503.20 274.60,501.20 C275.00,499.20 275.45,498.02 275.90,498.40 C276.35,498.78 276.87,501.50 277.30,503.50 C277.73,505.50 278.05,507.98 278.50,510.40 C278.95,512.82 279.50,515.43 280.00,518.00 C280.50,520.57 280.92,523.22 281.50,525.80 C282.08,528.38 282.92,530.93 283.50,533.50 C284.08,536.07 284.33,538.62 285.00,541.20 C285.67,543.78 286.42,545.87 287.50,549.00 C288.58,552.13 290.17,556.33 291.50,560.00 C292.83,563.67 294.17,567.92 295.50,571.00 C296.83,574.08 298.25,576.75 299.50,578.50 C300.75,580.25 302.42,581.00 303.00,581.50 Z" fill="#cccccc" stroke="#8f8f8f" stroke-width="0.6"/>
<rect x="210.00" y="486.50" width="114.20" height="95.00" fill="none" stroke="#777" stroke-width="0.9" />
<line x1="207.50" y1="581.50" x2="210.00" y2="581.50" stroke="#555" stroke-width="0.8"/>
<text x="206.40" y="583.90" font-size="7" text-anchor="end" font-weight="normal" font-style="normal" fill="#000"  style="stroke-width:0.41px">0</text>
<line x1="207.50" y1="562.50" x2="210.00" y2="562.50" stroke="#555" stroke-width="0.8"/>
<text x="206.40" y="564.90" font-size="7" text-anchor="end" font-weight="normal" font-style="normal" fill="#000"  style="stroke-width:0.41px">20</text>
<line x1="207.50" y1="543.50" x2="210.00" y2="543.50" stroke="#555" stroke-width="0.8"/>
<text x="206.40" y="545.90" font-size="7" text-anchor="end" font-weight="normal" font-style="normal" fill="#000"  style="stroke-width:0.41px">40</text>
<line x1="207.50" y1="524.50" x2="210.00" y2="524.50" stroke="#555" stroke-width="0.8"/>
<text x="206.40" y="526.90" font-size="7" text-anchor="end" font-weight="normal" font-style="normal" fill="#000"  style="stroke-width:0.41px">60</text>
<line x1="207.50" y1="505.50" x2="210.00" y2="505.50" stroke="#555" stroke-width="0.8"/>
<text x="206.40" y="507.90" font-size="7" text-anchor="end" font-weight="normal" font-style="normal" fill="#000"  style="stroke-width:0.41px">80</text>
<line x1="207.50" y1="486.50" x2="210.00" y2="486.50" stroke="#555" stroke-width="0.8"/>
<text x="206.40" y="488.90" font-size="7" text-anchor="end" font-weight="normal" font-style="normal" fill="#000"  style="stroke-width:0.41px">100</text>
<text x="212.70" y="590.50" font-size="7" text-anchor="middle" font-weight="normal" font-style="normal" fill="#000"  style="stroke-width:0.41px">10<tspan font-size="5" dy="-2.8">0</tspan></text>
<text x="246.00" y="590.50" font-size="7" text-anchor="middle" font-weight="normal" font-style="normal" fill="#000"  style="stroke-width:0.41px">10<tspan font-size="5" dy="-2.8">1</tspan></text>
<text x="279.20" y="590.50" font-size="7" text-anchor="middle" font-weight="normal" font-style="normal" fill="#000"  style="stroke-width:0.41px">10<tspan font-size="5" dy="-2.8">2</tspan></text>
<text x="312.50" y="590.50" font-size="7" text-anchor="middle" font-weight="normal" font-style="normal" fill="#000"  style="stroke-width:0.41px">10<tspan font-size="5" dy="-2.8">3</tspan></text>
<line x1="210.50" y1="581.50" x2="210.50" y2="584.00" stroke="#555" stroke-width="0.6"/>
<line x1="220.43" y1="581.50" x2="220.43" y2="583.00" stroke="#555" stroke-width="0.6"/>
<line x1="226.25" y1="581.50" x2="226.25" y2="583.00" stroke="#555" stroke-width="0.6"/>
<line x1="230.37" y1="581.50" x2="230.37" y2="583.00" stroke="#555" stroke-width="0.6"/>
<line x1="233.57" y1="581.50" x2="233.57" y2="583.00" stroke="#555" stroke-width="0.6"/>
<line x1="236.18" y1="581.50" x2="236.18" y2="583.00" stroke="#555" stroke-width="0.6"/>
<line x1="238.39" y1="581.50" x2="238.39" y2="583.00" stroke="#555" stroke-width="0.6"/>
<line x1="240.30" y1="581.50" x2="240.30" y2="583.00" stroke="#555" stroke-width="0.6"/>
<line x1="241.99" y1="581.50" x2="241.99" y2="583.00" stroke="#555" stroke-width="0.6"/>
<line x1="243.50" y1="581.50" x2="243.50" y2="584.00" stroke="#555" stroke-width="0.6"/>
<line x1="253.43" y1="581.50" x2="253.43" y2="583.00" stroke="#555" stroke-width="0.6"/>
<line x1="259.25" y1="581.50" x2="259.25" y2="583.00" stroke="#555" stroke-width="0.6"/>
<line x1="263.37" y1="581.50" x2="263.37" y2="583.00" stroke="#555" stroke-width="0.6"/>
<line x1="266.57" y1="581.50" x2="266.57" y2="583.00" stroke="#555" stroke-width="0.6"/>
<line x1="269.18" y1="581.50" x2="269.18" y2="583.00" stroke="#555" stroke-width="0.6"/>
<line x1="271.39" y1="581.50" x2="271.39" y2="583.00" stroke="#555" stroke-width="0.6"/>
<line x1="273.30" y1="581.50" x2="273.30" y2="583.00" stroke="#555" stroke-width="0.6"/>
<line x1="274.99" y1="581.50" x2="274.99" y2="583.00" stroke="#555" stroke-width="0.6"/>
<line x1="276.50" y1="581.50" x2="276.50" y2="584.00" stroke="#555" stroke-width="0.6"/>
<line x1="286.43" y1="581.50" x2="286.43" y2="583.00" stroke="#555" stroke-width="0.6"/>
<line x1="292.25" y1="581.50" x2="292.25" y2="583.00" stroke="#555" stroke-width="0.6"/>
<line x1="296.37" y1="581.50" x2="296.37" y2="583.00" stroke="#555" stroke-width="0.6"/>
<line x1="299.57" y1="581.50" x2="299.57" y2="583.00" stroke="#555" stroke-width="0.6"/>
<line x1="302.18" y1="581.50" x2="302.18" y2="583.00" stroke="#555" stroke-width="0.6"/>
<line x1="304.39" y1="581.50" x2="304.39" y2="583.00" stroke="#555" stroke-width="0.6"/>
<line x1="306.30" y1="581.50" x2="306.30" y2="583.00" stroke="#555" stroke-width="0.6"/>
<line x1="307.99" y1="581.50" x2="307.99" y2="583.00" stroke="#555" stroke-width="0.6"/>
<text x="277.60" y="604.60" font-size="8" text-anchor="middle" font-weight="normal" font-style="normal" fill="#000"  style="stroke-width:0.46px">Alexa 488-CD11b</text>
<text x="185.90" y="534.80" font-size="8.1" text-anchor="middle" font-weight="normal" font-style="normal" fill="#000" transform="rotate(-90 185.90 534.80)"  style="stroke-width:0.47px">% Maximal fluorescence</text>
<text x="191.30" y="620.00" font-size="8" text-anchor="start" font-weight="bold" font-style="italic" fill="#000"  style="stroke-width:0.46px">Key:</text>
<rect x="211.90" y="622.40" width="14.70" height="11.80" fill="#c2c2c2" stroke="#0003" stroke-width="0.8" />
<text x="232.70" y="631.20" font-size="8" text-anchor="start" font-weight="normal" font-style="normal" fill="#000"  style="stroke-width:0.46px">Resting</text>
<rect x="211.90" y="641.00" width="14.70" height="11.80" fill="#7db9f2" stroke="#0003" stroke-width="0.8" />
<text x="232.70" y="649.80" font-size="8" text-anchor="start" font-weight="normal" font-style="normal" fill="#000"  style="stroke-width:0.46px">MP-free releasate</text>
<rect x="211.90" y="659.60" width="14.70" height="11.80" fill="#fa6c00" stroke="#0003" stroke-width="0.8" />
<text x="232.70" y="668.40" font-size="8" text-anchor="start" font-weight="normal" font-style="normal" fill="#000"  style="stroke-width:0.46px">MP-rich releasate</text>
<rect x="211.90" y="678.20" width="14.70" height="11.80" fill="#66f266" stroke="#0003" stroke-width="0.8" />
<text x="232.70" y="687.00" font-size="8" text-anchor="start" font-weight="normal" font-style="normal" fill="#000"  style="stroke-width:0.46px">Activated platelets</text>
<text x="358.80" y="486.00" font-size="14" text-anchor="start" font-weight="bold" font-style="normal" fill="#000"  style="stroke-width:0.81px">F</text>
<line x1="406.00" y1="492.30" x2="406.00" y2="616.60" stroke="#222" stroke-width="1.1"/>
<line x1="402.80" y1="492.70" x2="406.00" y2="492.70" stroke="#222" stroke-width="1.1"/>
<text x="401.50" y="494.80" font-size="8.5" text-anchor="end" font-weight="normal" font-style="normal" fill="#000"  style="stroke-width:0.49px">4</text>
<line x1="402.80" y1="533.90" x2="406.00" y2="533.90" stroke="#222" stroke-width="1.1"/>
<text x="401.50" y="536.00" font-size="8.5" text-anchor="end" font-weight="normal" font-style="normal" fill="#000"  style="stroke-width:0.49px">3</text>
<line x1="402.80" y1="574.90" x2="406.00" y2="574.90" stroke="#222" stroke-width="1.1"/>
<text x="401.50" y="577.00" font-size="8.5" text-anchor="end" font-weight="normal" font-style="normal" fill="#000"  style="stroke-width:0.49px">2</text>
<line x1="402.80" y1="616.10" x2="406.00" y2="616.10" stroke="#222" stroke-width="1.1"/>
<text x="401.50" y="618.20" font-size="8.5" text-anchor="end" font-weight="normal" font-style="normal" fill="#000"  style="stroke-width:0.49px">1</text>
<line x1="428.85" y1="518.70" x2="428.85" y2="507.50" stroke="#000" stroke-width="1.1"/>
<line x1="425.55" y1="507.50" x2="432.15" y2="507.50" stroke="#000" stroke-width="1.1"/>
<rect x="423.30" y="518.70" width="11.10" height="97.50" fill="#fff" stroke="#111" stroke-width="1.1" />
<line x1="446.00" y1="526.30" x2="446.00" y2="515.80" stroke="#000" stroke-width="1.1"/>
<line x1="442.70" y1="515.80" x2="449.30" y2="515.80" stroke="#000" stroke-width="1.1"/>
<rect x="440.40" y="526.30" width="11.20" height="89.90" fill="#d4d4d4" stroke="#111" stroke-width="1.1" />
<line x1="463.55" y1="565.20" x2="463.55" y2="556.60" stroke="#000" stroke-width="1.1"/>
<line x1="460.25" y1="556.60" x2="466.85" y2="556.60" stroke="#000" stroke-width="1.1"/>
<rect x="457.60" y="565.20" width="11.90" height="51.00" fill="#666" stroke="#111" stroke-width="1.1" />
<line x1="481.15" y1="586.00" x2="481.15" y2="578.40" stroke="#000" stroke-width="1.1"/>
<line x1="477.85" y1="578.40" x2="484.45" y2="578.40" stroke="#000" stroke-width="1.1"/>
<rect x="475.40" y="586.00" width="11.50" height="30.20" fill="#000" stroke="#111" stroke-width="1.1" />
<text x="447.30" y="509.20" font-size="10" text-anchor="middle" font-weight="normal" font-style="normal" fill="#000"  style="stroke-width:0.58px">ns</text>
<text x="463.70" y="556.00" font-size="10.5" text-anchor="middle" font-weight="normal" font-style="normal" fill="#000"  style="stroke-width:0.61px">**</text>
<text x="481.80" y="577.20" font-size="10.5" text-anchor="middle" font-weight="normal" font-style="normal" fill="#000"  style="stroke-width:0.61px">***</text>
<line x1="419.60" y1="626.30" x2="490.00" y2="626.30" stroke="#222" stroke-width="1.2"/>
<line x1="428.85" y1="626.30" x2="428.85" y2="630.00" stroke="#111" stroke-width="1.3"/>
<line x1="446.00" y1="626.30" x2="446.00" y2="630.00" stroke="#111" stroke-width="1.3"/>
<line x1="463.55" y1="626.30" x2="463.55" y2="630.00" stroke="#111" stroke-width="1.3"/>
<line x1="481.15" y1="626.30" x2="481.15" y2="630.00" stroke="#111" stroke-width="1.3"/>
<text x="431.95" y="640.50" font-size="10.2" text-anchor="end" font-weight="normal" font-style="normal" fill="#000" transform="rotate(-45 431.95 640.50)"  style="stroke-width:0.59px">Control</text>
<text x="449.10" y="640.50" font-size="10.2" text-anchor="end" font-weight="normal" font-style="normal" fill="#000" transform="rotate(-45 449.10 640.50)"  style="stroke-width:0.59px">CXCR1/2 Antag</text>
<text x="466.65" y="640.50" font-size="10.2" text-anchor="end" font-weight="normal" font-style="normal" fill="#000" transform="rotate(-45 466.65 640.50)"  style="stroke-width:0.59px">PAF Antag</text>
<text x="484.25" y="640.50" font-size="10.2" text-anchor="end" font-weight="normal" font-style="normal" fill="#000" transform="rotate(-45 484.25 640.50)"  style="stroke-width:0.59px">CXCR1/2+PAF Antag</text>
<text x="372.10" y="555.30" font-size="9.7" text-anchor="middle" font-weight="normal" font-style="normal" fill="#000" transform="rotate(-90 372.10 555.30)"  style="stroke-width:0.56px">Mac-1 activation</text>
<text x="384.60" y="555.00" font-size="9.7" text-anchor="middle" font-weight="normal" font-style="normal" fill="#000" transform="rotate(-90 384.60 555.00)"  style="stroke-width:0.56px">(fold increase)</text>
</svg>
</body></html>
